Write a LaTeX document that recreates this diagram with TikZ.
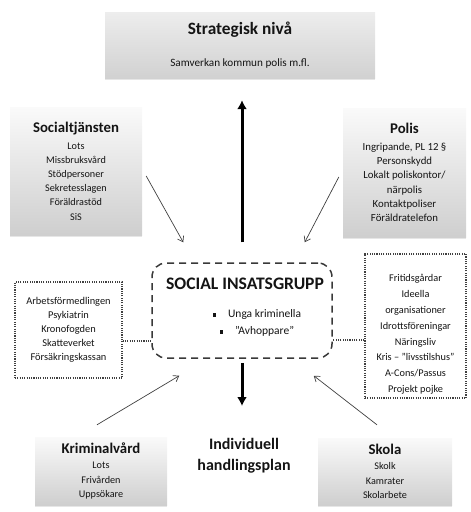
\documentclass[tikz,border=0pt]{standalone}
\usepackage{fontspec}
\setmainfont{Carlito}
\usetikzlibrary{arrows.meta,shadows}

\definecolor{textgrey}{gray}{0.08}
\definecolor{linegrey}{gray}{0.25}

\tikzset{
  greybox/.style={rectangle, align=center, inner sep=0pt, text=textgrey,
    top color=gray!4, bottom color=gray!38,
    drop shadow={shadow xshift=0pt, shadow yshift=-2pt, opacity=0.2}},
  dotbox/.style={rectangle, align=center, inner sep=0pt, text=textgrey,
    draw=linegrey, line width=1.4pt, dash pattern=on 1.1pt off 1.2pt},
  insatsbox/.style={rectangle, rounded corners=14pt, draw=gray!45!black,
    line width=1.5pt, dash pattern=on 7pt off 5pt},
  thinarrow/.style={draw=linegrey, line width=0.7pt, -{Straight Barb[length=5pt,width=7pt]}},
  thickarrow/.style={draw=black, line width=3pt, -{Latex[length=9pt,width=10pt]}},
  dotline/.style={draw=linegrey, line width=1.4pt, dash pattern=on 1.1pt off 1.2pt}
}

\newcommand{\punkt}{\rule[1pt]{3.2pt}{3.2pt}\hspace{12pt}}
\newcommand{\rubrikfont}{\fontsize{14.8}{17}\selectfont\bfseries}

\begin{document}
\begin{tikzpicture}[x=1pt, y=-1pt]
  \useasboundingbox (0,0) rectangle (471,512);

  % Nodes
  \node[greybox, top color=gray!14, bottom color=gray!36, minimum width=270pt, minimum height=66pt,
    font=\fontsize{11.2}{14}\selectfont] (strategi) at (240,45)
    {{\fontsize{17.3}{18}\selectfont\bfseries Strategisk nivå}\\[18pt] Samverkan kommun polis m.fl.};

  \node[greybox, minimum width=132pt, minimum height=128pt, font=\fontsize{10.2}{14.2}\selectfont]
    (social) at (76,171)
    {{\rubrikfont Socialtjänsten}\\[2.5pt]
     Lots\\ Missbruksvård\\ Stödpersoner\\ Sekretesslagen\\ Föräldrastöd\\ SiS};

  \node[greybox, minimum width=123pt, minimum height=129pt, font=\fontsize{10.8}{14.2}\selectfont]
    (polis) at (404.5,172.5)
    {{\rubrikfont Polis}\\[2.5pt]
     Ingripande, PL 12 §\\ Personskydd\\ Lokalt poliskontor/\\ närpolis\\ Kontaktpoliser\\ Föräldratelefon};

  \node[insatsbox, minimum width=180pt, minimum height=95pt] (insats) at (242,310.5) {};
  \node[font=\fontsize{17.6}{19}\selectfont\bfseries, text=textgrey] (insatsrubrik) at (245,284)
    {SOCIAL INSATSGRUPP};
  \node[align=center, font=\fontsize{11.5}{17}\selectfont, text=textgrey] (malgrupp) at (257,323)
    {\punkt Unga kriminella\\ \punkt ”Avhoppare”};

  \node[dotbox, minimum width=107pt, minimum height=96pt, font=\fontsize{10.4}{14}\selectfont]
    (myndigheter) at (68.5,330)
    {Arbetsförmedlingen\\ Psykiatrin\\ Kronofogden\\ Skatteverket\\ Försäkringskassan};

  \node[dotbox, minimum width=101pt, minimum height=144pt, font=\fontsize{10.3}{15.8}\selectfont]
    (foreningar) at (415.5,326)
    {\rule{0pt}{24pt}Fritidsgårdar\\ Ideella\\ organisationer\\ Idrottsföreningar\\ Näringsliv\\
     Kris – ”livsstilshus”\\ A-Cons/Passus\\ Projekt pojke};

  \node[align=center, font=\fontsize{16}{21}\selectfont\bfseries, text=textgrey] (plan) at (244,456)
    {Individuell\\ handlingsplan};
  \coordinate (planspets) at (242,406);

  \node[greybox, minimum width=132pt, minimum height=68pt, font=\fontsize{10.2}{14.5}\selectfont]
    (kriminal) at (101,471)
    {{\rubrikfont Kriminalvård}\\[1pt] Lots\\ Frivården\\ Uppsökare};

  \node[greybox, minimum width=134pt, minimum height=67pt, font=\fontsize{10.2}{14.5}\selectfont]
    (skola) at (385,471.5)
    {{\rubrikfont Skola}\\[1pt] Skolk\\ Kamrater\\ Skolarbete};

  % Edges
  \draw[thickarrow] ([yshift=20pt]insats.north) -- ([xshift=2pt,yshift=-22pt]strategi.south);
  \draw[thickarrow, shorten <=4pt] (insats.south) -- (planspets);
  \draw[thinarrow] ([shift={(4,5)}]social.east) -- ([shift={(32,-20)}]insats.north west);
  \draw[thinarrow] ([shift={(-4,4.5)}]polis.west) -- ([shift={(-28,-20)}]insats.north east);
  \draw[thinarrow] ([shift={(-4,-12)}]kriminal.north) -- ([shift={(28,17)}]insats.south west);
  \draw[thinarrow] ([shift={(-8,-13)}]skola.north) -- ([shift={(-19,17)}]insats.south east);
  \draw[dotline] ([yshift=-11pt]myndigheter.east) -- ([yshift=-11pt]insats.west |- myndigheter.east);
  \draw[dotline] ([yshift=-14pt]foreningar.west) -- ([yshift=-14pt]insats.east |- foreningar.west);
\end{tikzpicture}
\end{document}
